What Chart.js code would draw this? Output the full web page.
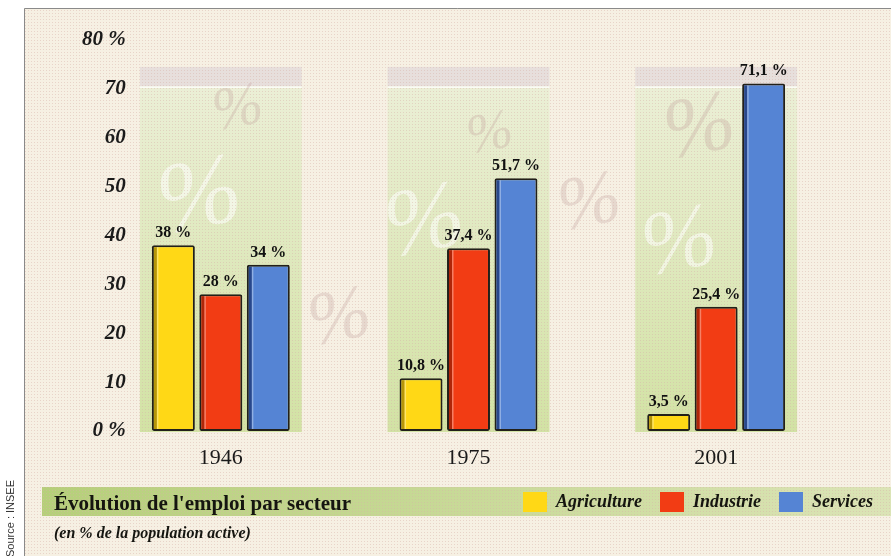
<!DOCTYPE html>
<html><head><meta charset="utf-8">
<script src="https://cdn.jsdelivr.net/npm/chart.js@4.4.0/dist/chart.umd.min.js"></script>
<style>
html,body{margin:0;padding:0;background:#fff;}
#wrap{position:relative;width:891px;height:556px;overflow:hidden;}
canvas{position:absolute;left:0;top:0;}
.t{position:absolute;white-space:nowrap;color:#151510;font-family:"Liberation Serif","DejaVu Serif",serif;}
#title{left:54px;top:493px;font-size:21px;line-height:21px;font-weight:bold;}
#sub{left:54px;top:525px;font-size:16px;line-height:16px;font-weight:bold;font-style:italic;}
#src{left:4px;top:557px;font-family:"Liberation Sans",Arial,sans-serif;font-size:11px;line-height:12px;color:#333;transform-origin:0 0;transform:rotate(-90deg);}
</style></head><body>
<div id="wrap"><canvas id="c" width="891" height="556"></canvas>
<div class="t" id="title">Évolution de l'emploi par secteur</div>
<div class="t" id="sub">(en % de la population active)</div>
<div class="t" id="src">Source : INSEE</div>
</div>
<script>
const years = ['1946', '1975', '2001'];
const seriesNames = ['Agriculture', 'Industrie', 'Services'];
const agriculture = [38, 10.8, 3.5];
const industrie = [28, 37.4, 25.4];
const services = [34, 51.7, 71.1];
const yTicks = [0, 10, 20, 30, 40, 50, 60, 70, 80];
const yTickLabels = ['0 %', '10', '20', '30', '40', '50', '60', '70', '80 %'];

const SERIF = '"Liberation Serif", "DejaVu Serif", serif';

const pc = document.createElement('canvas'); pc.width = 3; pc.height = 3;
const pctx = pc.getContext('2d');
pctx.fillStyle = 'rgba(214,178,168,0.45)'; pctx.fillRect(1, 1, 1, 1);

function wm(ctx, x, y, size, rot, color) {
  ctx.save(); ctx.translate(x, y); ctx.rotate(rot);
  ctx.font = 'italic ' + size + 'px ' + SERIF;
  ctx.fillStyle = color; ctx.textAlign = 'center'; ctx.textBaseline = 'middle';
  ctx.fillText('%', 0, 0); ctx.restore();
}

const bgPlugin = {
  id: 'bg',
  beforeDraw(chart) {
    const ctx = chart.ctx, y = chart.scales.y;
    ctx.save();
    ctx.fillStyle = '#fff'; ctx.fillRect(0, 0, chart.width, chart.height);
    ctx.fillStyle = '#f6f0e3'; ctx.fillRect(24, 8, chart.width - 24, chart.height - 8);
    const metas = [0, 1, 2].map(i => chart.getDatasetMeta(i));
    const yTop = y.getPixelForValue(74.5), yBand = y.getPixelForValue(70.5), yBot = y.getPixelForValue(0) + 1;
    for (let j = 0; j < years.length; j++) {
      const f = metas[0].data[j], l = metas[2].data[j];
      const x0 = f.x - f.width / 2 - 12, x1 = l.x + l.width / 2 + 12;
      ctx.fillStyle = '#e7dfdc'; ctx.fillRect(x0, yTop, x1 - x0, yBand - yTop);
      const g = ctx.createLinearGradient(0, yBand, 0, yBot);
      g.addColorStop(0, '#ebefd6'); g.addColorStop(1, '#d2e2a4');
      ctx.fillStyle = g; ctx.fillRect(x0, yBand, x1 - x0, yBot - yBand);
      ctx.fillStyle = 'rgba(255,255,255,0.8)'; ctx.fillRect(x0, yBand, x1 - x0, 1.5);
    }
    const gb = ctx.createLinearGradient(42, 0, chart.width, 0);
    gb.addColorStop(0, '#b6cf7a'); gb.addColorStop(1, '#dbe4b6');
    ctx.fillStyle = gb; ctx.fillRect(42, 487, chart.width - 42, 29);
    const pink = 'rgba(185,145,145,0.25)', white = 'rgba(255,255,255,0.55)';
    wm(ctx, 238, 110, 60, -0.2, pink);
    wm(ctx, 200, 200, 100, -0.2, white);
    wm(ctx, 340, 320, 75, -0.2, pink);
    wm(ctx, 490, 135, 55, -0.2, pink);
    wm(ctx, 425, 225, 95, -0.2, white);
    wm(ctx, 590, 205, 75, -0.2, pink);
    wm(ctx, 700, 130, 85, -0.2, pink);
    wm(ctx, 680, 245, 90, -0.2, white);
    ctx.fillStyle = ctx.createPattern(pc, 'repeat');
    ctx.fillRect(25, 9, chart.width - 25, chart.height - 9);
    ctx.strokeStyle = '#8a8a8a'; ctx.lineWidth = 1;
    ctx.beginPath(); ctx.moveTo(24.5, chart.height); ctx.lineTo(24.5, 8.5); ctx.lineTo(chart.width, 8.5); ctx.stroke();
    ctx.restore();
  }
};

const shade = ['rgba(120,95,0,0.55)', 'rgba(120,20,0,0.55)', 'rgba(10,30,90,0.6)'];
const labelPlugin = {
  id: 'vals',
  afterDatasetsDraw(chart) {
    const ctx = chart.ctx; ctx.save();
    chart.data.datasets.forEach((ds, i) => {
      chart.getDatasetMeta(i).data.forEach((el) => {
        const l = el.x - el.width / 2;
        ctx.fillStyle = shade[i];
        ctx.fillRect(l + 2, el.y + 2, 3, el.base - el.y - 4);
        ctx.fillStyle = 'rgba(255,255,255,0.35)';
        ctx.fillRect(l + 5, el.y + 2, 1.5, el.base - el.y - 4);
      });
    });
    ctx.font = 'bold 16px ' + SERIF; ctx.fillStyle = '#111';
    ctx.textAlign = 'center'; ctx.textBaseline = 'alphabetic';
    chart.data.datasets.forEach((ds, i) => {
      chart.getDatasetMeta(i).data.forEach((el, j) => {
        ctx.fillText(String(ds.data[j]).replace('.', ',') + ' %', el.x, el.y - 8);
      });
    });
    ctx.restore();
  }
};

new Chart(document.getElementById('c'), {
  type: 'bar',
  data: {
    labels: years,
    datasets: [
      { label: seriesNames[0], data: agriculture, backgroundColor: '#ffd816' },
      { label: seriesNames[1], data: industrie, backgroundColor: '#f23c14' },
      { label: seriesNames[2], data: services, backgroundColor: '#5584d4' }
    ]
  },
  options: {
    responsive: false, animation: false,
    layout: { padding: { top: 40, bottom: 34, left: 0, right: 0 } },
    datasets: { bar: { categoryPercentage: 0.575, barPercentage: 0.905, borderWidth: 2, borderColor: '#22201a', borderSkipped: false, borderRadius: 2 } },
    scales: {
      x: {
        grid: { display: false, drawTicks: false }, border: { display: false },
        ticks: { font: { family: SERIF, size: 22 }, color: '#1a1a1a', padding: 14 },
        afterFit: s => { s.height = 43; }
      },
      y: {
        min: 0, max: 80,
        grid: { display: false, drawTicks: false }, border: { display: false },
        ticks: {
          stepSize: 10, mirror: true, crossAlign: 'far', padding: -15, color: '#1a1a1a',
          font: { family: SERIF, size: 21, style: 'italic', weight: 'bold' },
          callback: v => { const k = yTicks.indexOf(v); return k >= 0 ? yTickLabels[k] : ''; }
        },
        afterFit: s => { s.width = 97; }
      },
      y2: {
        position: 'right', min: 0, max: 1,
        grid: { display: false, drawTicks: false }, border: { display: false },
        ticks: { display: false },
        afterFit: s => { s.width = 51; }
      }
    },
    plugins: {
      legend: {
        position: 'bottom', align: 'end',
        labels: {
          boxWidth: 24, boxHeight: 20, padding: 18, color: '#151510',
          font: { family: SERIF, size: 18, style: 'italic', weight: 'bold' },
          generateLabels(chart) {
            const items = Chart.defaults.plugins.legend.labels.generateLabels(chart);
            items.forEach(it => { it.lineWidth = 0; it.strokeStyle = 'rgba(0,0,0,0)'; });
            return items;
          }
        }
      },
      tooltip: { enabled: false }
    }
  },
  plugins: [bgPlugin, labelPlugin]
});
</script>
</body></html>
